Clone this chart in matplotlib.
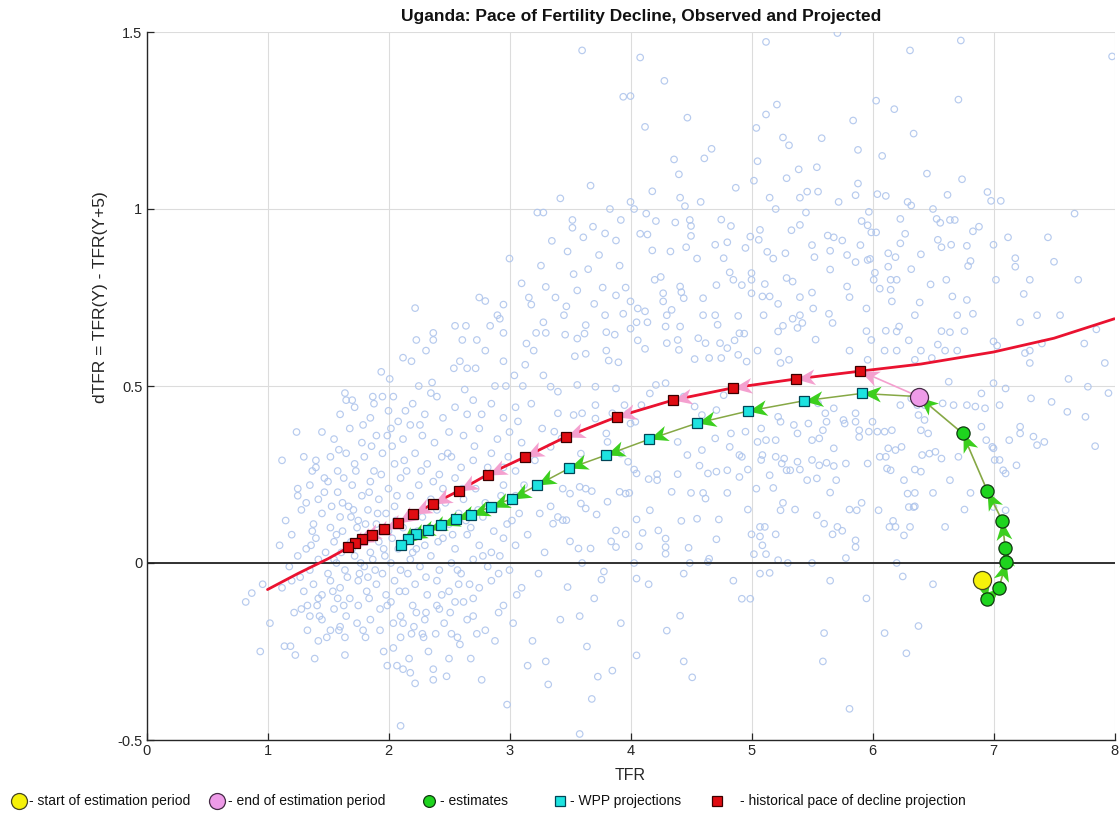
import numpy as np
import matplotlib
matplotlib.use("Agg")
import matplotlib.pyplot as plt
from matplotlib.path import Path
from matplotlib.markers import MarkerStyle
from matplotlib.transforms import Affine2D
from matplotlib.lines import Line2D

# ---------------- data ----------------
title = "Uganda: Pace of Fertility Decline, Observed and Projected"

# observed estimates (start -> end of estimation period)
est_tfr = [6.905, 6.945, 7.045, 7.106, 7.097, 7.073, 6.950, 6.745, 6.383]
est_dtfr = [-0.049, -0.101, -0.070, 0.003, 0.041, 0.119, 0.203, 0.366, 0.470]

# WPP projections
wpp_tfr = [5.91, 5.43, 4.97, 4.55, 4.15, 3.80, 3.49, 3.23, 3.02, 2.85, 2.68,
           2.56, 2.43, 2.33, 2.23, 2.16, 2.10]
wpp_dtfr = [0.479, 0.458, 0.429, 0.395, 0.349, 0.305, 0.267, 0.220, 0.182,
            0.159, 0.137, 0.123, 0.107, 0.093, 0.081, 0.069, 0.051]

# historical pace of decline projection
hist_tfr = [5.90, 5.37, 4.85, 4.35, 3.89, 3.47, 3.13, 2.82, 2.58, 2.37, 2.20,
            2.08, 1.965, 1.865, 1.785, 1.72, 1.665]
hist_dtfr = [0.542, 0.520, 0.495, 0.460, 0.413, 0.357, 0.300, 0.250, 0.204,
             0.167, 0.138, 0.112, 0.095, 0.080, 0.067, 0.056, 0.046]

# fitted historical pace curve
curve_tfr = [1.0, 1.25, 1.5, 1.68, 1.8, 1.97, 2.08, 2.2, 2.37, 2.58, 2.82,
             3.13, 3.47, 3.89, 4.35, 4.85, 5.37, 5.9, 6.4, 7.0, 7.5, 8.0]
curve_dtfr = [-0.075, -0.03, 0.012, 0.046, 0.068, 0.095, 0.112, 0.138, 0.167,
              0.204, 0.25, 0.30, 0.357, 0.413, 0.46, 0.495, 0.52, 0.542,
              0.562, 0.596, 0.635, 0.69]

# background cloud: all countries (TFR, dTFR)
cloud_left = [
    (0.82, -0.11), (0.87, -0.085), (0.96, -0.06), (0.94, -0.25), (1.02, -0.17),
    (1.12, 0.29), (1.24, 0.37), (1.25, 0.19), (1.40, 0.29),
    (1.14, -0.235), (1.19, -0.235), (1.23, -0.26), (1.39, -0.27), (1.64, -0.26),
    (1.28, -0.13), (1.35, -0.15), (1.43, -0.15), (1.42, -0.10), (1.60, -0.18),
    (1.64, -0.21), (1.79, -0.19), (1.81, -0.21), (1.96, -0.25), (1.99, -0.29),
    (2.07, -0.29), (2.12, -0.30), (2.18, -0.31), (2.22, -0.34), (2.37, -0.30),
    (2.48, -0.32), (2.37, -0.33), (2.50, -0.27), (2.57, -0.21), (2.59, -0.23),
    (2.73, -0.20), (2.80, -0.19), (2.77, -0.33), (2.91, -0.14), (2.10, -0.46),
    (2.98, -0.40), (3.19, -0.22), (3.15, -0.29), (3.24, -0.03), (3.10, -0.07),
    (3.06, -0.09), (2.51, -0.14), (2.62, -0.11), (2.70, -0.10), (2.65, -0.16),
    (2.23, -0.14), (2.31, -0.14), (2.40, -0.12), (2.46, -0.17), (2.04, -0.17),
    (2.12, -0.17), (2.21, -0.18), (2.28, -0.20), (2.10, -0.21), (2.19, -0.20),
    (2.29, -0.21), (2.39, -0.20), (1.42, -0.22), (1.52, -0.19), (1.59, -0.19),
    (1.60, 0.42), (1.72, 0.44), (1.85, 0.41), (2.00, 0.43), (2.08, 0.40),
    (2.20, 0.45), (2.30, 0.42), (2.45, 0.41), (2.55, 0.44), (1.95, 0.47),
    (2.25, 0.50), (2.40, 0.47), (2.70, 0.46), (2.65, 0.42), (2.85, 0.45),
    (2.95, 0.41), (3.05, 0.44),
    (1.45, 0.37), (1.55, 0.35), (1.68, 0.38), (1.78, 0.34), (1.90, 0.36),
    (2.02, 0.38), (2.12, 0.35), (2.18, 0.39), (2.28, 0.36), (2.38, 0.34),
    (2.50, 0.37), (2.62, 0.36), (2.75, 0.38), (2.90, 0.35), (3.00, 0.37),
    (3.10, 0.34),
    (1.30, 0.30), (1.40, 0.27), (1.52, 0.30), (1.58, 0.26), (1.65, 0.31),
    (1.72, 0.28), (1.80, 0.30), (1.88, 0.26), (1.95, 0.31), (2.05, 0.28),
    (2.15, 0.26), (2.22, 0.31), (2.32, 0.28), (2.42, 0.25), (2.52, 0.30),
    (2.60, 0.27), (2.70, 0.29), (2.85, 0.31), (2.95, 0.27), (3.05, 0.26),
    (1.25, 0.21), (1.35, 0.22), (1.42, 0.18), (1.50, 0.23), (1.58, 0.20),
    (1.62, 0.17), (1.70, 0.22), (1.78, 0.19), (1.85, 0.23), (1.92, 0.18),
    (2.00, 0.21), (2.10, 0.24), (2.18, 0.19), (2.25, 0.22), (2.35, 0.18),
    (2.45, 0.21), (2.55, 0.24), (2.62, 0.18), (2.72, 0.21), (2.80, 0.17),
    (2.95, 0.22), (3.05, 0.19),
    (1.15, 0.12), (1.28, 0.15), (1.38, 0.11), (1.45, 0.14), (1.52, 0.10),
    (1.60, 0.13), (1.67, 0.16), (1.75, 0.12), (1.83, 0.15), (1.90, 0.11),
    (1.98, 0.14), (2.05, 0.16), (2.12, 0.10), (2.28, 0.13), (2.40, 0.15),
    (2.50, 0.11), (2.58, 0.14), (2.68, 0.10), (2.78, 0.13), (2.88, 0.16),
    (2.98, 0.11), (3.08, 0.14),
    (1.10, 0.05), (1.20, 0.08), (1.32, 0.04), (1.40, 0.07), (1.48, 0.03),
    (1.55, 0.06), (1.62, 0.09), (1.70, 0.04), (1.78, 0.07), (1.85, 0.03),
    (1.92, 0.06), (2.00, 0.09), (2.08, 0.04), (2.20, 0.03), (2.30, 0.05),
    (2.45, 0.07), (2.55, 0.04), (2.65, 0.08), (2.75, 0.05), (2.85, 0.03),
    (2.95, 0.07), (3.05, 0.05),
    (1.18, -0.01), (1.25, 0.02), (1.35, -0.02), (1.42, 0.01), (1.50, -0.03),
    (1.57, 0.00), (1.64, -0.02), (1.72, 0.02), (1.80, -0.01), (1.87, 0.01),
    (1.95, -0.03), (2.02, 0.00), (2.10, -0.02), (2.18, 0.01), (2.26, -0.01),
    (2.35, 0.02), (2.42, -0.02), (2.52, 0.00), (2.60, -0.03), (2.70, 0.01),
    (2.82, -0.01), (2.92, 0.02), (3.00, -0.02),
    (1.12, -0.07), (1.20, -0.05), (1.30, -0.08), (1.38, -0.06), (1.45, -0.09),
    (1.52, -0.05), (1.60, -0.07), (1.68, -0.10), (1.75, -0.05), (1.82, -0.08),
    (1.90, -0.06), (1.98, -0.09), (2.05, -0.05), (2.14, -0.08), (2.22, -0.06),
    (2.32, -0.09), (2.40, -0.05), (2.50, -0.08), (2.58, -0.06), (2.75, -0.07),
    (2.85, -0.05),
    (1.22, -0.14), (1.33, -0.12), (1.45, -0.16), (1.55, -0.13), (1.65, -0.15),
    (1.75, -0.12), (1.85, -0.16), (1.93, -0.13), (2.02, -0.11), (2.10, -0.15),
    (2.20, -0.12), (2.30, -0.16), (2.42, -0.13), (2.55, -0.11), (2.70, -0.15),
    (2.95, -0.12),
    (1.55, 0.01), (1.66, 0.05), (1.76, -0.03), (1.88, 0.08), (1.97, 0.02),
    (2.06, 0.12), (2.15, 0.06), (1.74, 0.10), (1.63, 0.24), (1.86, 0.33),
    (2.03, 0.33), (1.47, 0.20), (1.36, 0.05), (1.58, -0.10), (1.83, -0.04),
    (2.24, 0.09), (1.69, 0.13),
    (2.22, 0.72), (2.37, 0.65), (2.37, 0.63), (2.55, 0.67), (2.64, 0.67),
    (2.75, 0.75), (2.80, 0.74), (2.95, 0.73), (2.90, 0.70), (2.92, 0.69),
    (2.84, 0.67), (2.95, 0.65), (3.16, 0.75), (3.18, 0.73), (3.28, 0.68),
    (3.22, 0.65), (3.30, 0.65), (2.23, 0.63), (2.61, 0.63), (2.73, 0.63),
    (2.80, 0.60), (2.31, 0.60), (2.12, 0.58), (2.19, 0.57), (1.94, 0.54),
    (2.01, 0.52), (2.54, 0.55), (2.59, 0.57), (2.65, 0.55), (2.72, 0.55),
    (2.95, 0.57), (2.88, 0.50), (2.36, 0.51), (2.35, 0.48), (3.20, 0.60),
    (3.13, 0.56), (3.04, 0.53), (3.11, 0.50), (3.28, 0.53), (1.64, 0.48),
    (1.65, 0.46), (1.70, 0.46), (1.87, 0.47), (2.04, 0.47), (3.00, 0.86),
    (3.23, 0.99), (3.28, 0.99), (3.10, 0.79), (3.30, 0.78), (3.38, 0.75),
    (3.45, 0.70),
]

cloud_dense = [
    (1.32, 0.17), (1.37, 0.26), (1.47, 0.24), (1.53, 0.16), (1.57, 0.08),
    (1.61, 0.03), (1.66, -0.04), (1.71, 0.15), (1.73, 0.26), (1.77, 0.00),
    (1.81, 0.11), (1.84, 0.20), (1.89, -0.02), (1.91, 0.14), (1.94, 0.25),
    (1.96, 0.04), (1.99, -0.12), (2.03, 0.07), (2.07, 0.19), (2.09, -0.08),
    (2.13, 0.29), (2.16, -0.03), (2.19, 0.14), (2.23, 0.04), (2.27, 0.26),
    (2.31, -0.04), (2.34, 0.10), (2.37, 0.23), (2.41, 0.06), (2.44, -0.09),
    (2.47, 0.17), (2.49, 0.31), (2.53, 0.08), (2.57, -0.02), (2.61, 0.21),
    (2.64, 0.12), (2.67, -0.06), (2.71, 0.33), (2.74, 0.15), (2.78, 0.02),
    (2.82, 0.27), (2.87, 0.09), (2.91, -0.03), (2.93, 0.19), (2.99, 0.30),
    (3.02, 0.12), (3.07, 0.40), (3.12, 0.22), (3.15, 0.08), (3.18, 0.45),
    (3.21, 0.29), (3.25, 0.14), (3.27, 0.38), (3.29, 0.03),
    (1.27, -0.04), (1.33, -0.19), (1.37, 0.09), (1.41, -0.12), (1.49, -0.21),
    (1.54, -0.08), (1.59, 0.32), (1.63, -0.12), (1.69, 0.06), (1.74, -0.17),
    (1.79, 0.39), (1.84, -0.10), (1.88, 0.45), (1.93, -0.19), (1.99, 0.36),
    (2.04, -0.24), (2.14, 0.43), (2.17, -0.27), (2.26, 0.39), (2.33, -0.25),
    (2.44, 0.30), (2.52, -0.20), (2.63, 0.49), (2.68, -0.27), (2.77, 0.42),
    (2.88, -0.22), (2.97, 0.50), (3.03, -0.17), (3.14, 0.62), (3.26, 0.84),
    (3.35, 0.91), (3.42, 1.03), (3.48, 0.88), (3.56, 0.77), (3.61, 0.92),
    (3.69, 0.95), (3.74, 0.87), (3.83, 1.00), (3.91, 0.84), (4.08, 0.93),
    (4.18, 1.05), (4.33, 0.88), (4.36, 1.14), (4.55, 0.86), (4.58, 1.02),
    (4.75, 0.97), (4.87, 1.06), (4.95, 0.89), (5.02, 1.08), (5.18, 0.86),
    (5.33, 0.94), (5.45, 0.99), (5.58, 1.20), (5.72, 1.02), (5.79, 0.87),
    (5.84, 1.25), (6.08, 1.15), (6.27, 0.93), (6.45, 1.10), (6.62, 1.04),
    (6.88, 0.95), (7.12, 0.92), (7.25, 0.76), (7.40, 0.62), (7.45, 0.92),
    (7.62, 0.52), (7.70, 0.80), (7.85, 0.66), (7.95, 0.48),
    (3.70, -0.10), (3.92, -0.17), (4.15, -0.06), (4.85, -0.05), (5.65, -0.05),
    (5.95, -0.10), (6.50, -0.06),
]

cloud_top = [
    (3.60, 1.448), (4.08, 1.428), (4.28, 1.362), (3.94, 1.317), (4.00, 1.319),
    (4.47, 1.258), (4.12, 1.232), (4.67, 1.17), (4.61, 1.143), (4.40, 1.098),
    (3.67, 1.066), (4.41, 1.032), (4.45, 1.008), (4.00, 1.02), (4.03, 1.00),
    (5.12, 1.472), (5.71, 1.497), (5.21, 1.295), (5.12, 1.267), (5.04, 1.229),
    (5.26, 1.202), (5.31, 1.18), (5.05, 1.135), (5.54, 1.118), (5.39, 1.112),
    (5.29, 1.087), (5.88, 1.167), (5.88, 1.072), (5.46, 1.049), (5.55, 1.049),
    (5.15, 1.032), (5.40, 1.032), (5.86, 1.039), (6.31, 1.448), (6.73, 1.476),
    (6.03, 1.306), (6.18, 1.282), (6.34, 1.213), (6.71, 1.309), (6.74, 1.084),
    (6.04, 1.042), (6.11, 1.037), (6.29, 1.02), (6.32, 1.01), (6.95, 1.048),
    (6.98, 1.023), (7.06, 1.023), (7.98, 1.431), (7.67, 0.987), (6.50, 1.00),
    (3.52, 0.969), (3.52, 0.947), (3.79, 0.931), (3.88, 0.911), (3.92, 0.969),
    (4.13, 0.987), (4.21, 0.966), (4.37, 0.962), (4.49, 0.969), (4.50, 0.952),
    (4.50, 0.924), (4.14, 0.928), (4.18, 0.883), (4.46, 0.892), (4.83, 0.952),
    (4.70, 0.899), (4.80, 0.906), (4.77, 0.861), (4.99, 0.922), (5.07, 0.941),
    (5.06, 0.913), (5.20, 1.00), (5.40, 0.955), (5.13, 0.879), (5.28, 0.875),
    (5.50, 0.898), (5.52, 0.864), (5.63, 0.925), (5.68, 0.920), (5.75, 0.911),
    (5.65, 0.882), (5.65, 0.829), (5.90, 0.898), (5.91, 0.966), (5.96, 0.954),
    (5.99, 0.934), (6.03, 0.934), (5.97, 0.992), (5.86, 0.85), (5.96, 0.856),
    (5.98, 0.859), (6.23, 0.972), (6.23, 0.903), (6.13, 0.875), (6.19, 0.864),
    (6.40, 0.872), (6.53, 0.972), (6.56, 0.961), (6.64, 0.969), (6.68, 0.969),
    (6.83, 0.937), (6.54, 0.913), (6.57, 0.892), (6.65, 0.899), (6.78, 0.896),
    (6.81, 0.853), (6.79, 0.839), (7.00, 0.899), (7.18, 0.861), (7.18, 0.837),
    (7.50, 0.851), (6.13, 0.837), (6.32, 0.83), (6.02, 0.82), (6.01, 0.80),
    (6.15, 0.80), (6.20, 0.80), (6.61, 0.80), (7.02, 0.80), (7.30, 0.80),
    (6.48, 0.787), (6.06, 0.775), (6.15, 0.772), (6.39, 0.736), (6.16, 0.739),
    (6.66, 0.753), (6.78, 0.743), (6.35, 0.70), (6.70, 0.70), (6.83, 0.704),
    (7.36, 0.70), (7.22, 0.68), (5.95, 0.719), (6.11, 0.656), (6.20, 0.654),
    (6.22, 0.668), (5.95, 0.655), (5.99, 0.63), (6.30, 0.629), (6.57, 0.655),
    (6.64, 0.652), (6.76, 0.655), (6.54, 0.617), (6.10, 0.60), (6.20, 0.60),
    (6.40, 0.60), (6.60, 0.60), (6.70, 0.60), (7.00, 0.626), (7.03, 0.614),
    (7.26, 0.593), (7.30, 0.60), (7.30, 0.565), (7.92, 0.565), (5.81, 0.60),
    (6.35, 0.574), (6.49, 0.579), (7.55, 0.70), (7.75, 0.62),
    (3.53, 0.816), (3.65, 0.83), (3.47, 0.725), (3.77, 0.778), (3.88, 0.756),
    (3.96, 0.778), (3.70, 0.732), (3.79, 0.70), (3.94, 0.704), (3.63, 0.672),
    (3.62, 0.648), (3.56, 0.634), (3.80, 0.652), (3.87, 0.645), (4.00, 0.739),
    (4.00, 0.662), (4.06, 0.719), (4.12, 0.711), (4.05, 0.68), (4.14, 0.68),
    (4.20, 0.80), (4.25, 0.808), (4.27, 0.762), (4.27, 0.739), (4.30, 0.70),
    (4.34, 0.715), (4.41, 0.781), (4.42, 0.765), (4.44, 0.748), (4.29, 0.668),
    (4.41, 0.668), (4.60, 0.748), (4.60, 0.70), (4.70, 0.70), (4.72, 0.673),
    (4.82, 0.821), (4.85, 0.80), (4.92, 0.785), (4.71, 0.785), (4.89, 0.698),
    (4.56, 0.635), (4.62, 0.621), (4.74, 0.621), (4.80, 0.607), (4.86, 0.629),
    (4.90, 0.649), (4.94, 0.648), (5.00, 0.819), (5.00, 0.80), (5.00, 0.762),
    (5.11, 0.788), (5.09, 0.753), (5.15, 0.753), (5.10, 0.70), (5.22, 0.732),
    (5.29, 0.805), (5.34, 0.795), (5.40, 0.751), (5.50, 0.764), (5.51, 0.719),
    (5.34, 0.69), (5.40, 0.70), (5.42, 0.678), (5.38, 0.664), (5.22, 0.654),
    (5.26, 0.67), (5.64, 0.704), (5.67, 0.678), (5.79, 0.781), (5.81, 0.751),
    (5.53, 0.631), (5.05, 0.60), (5.22, 0.598), (5.24, 0.565), (5.31, 0.574),
    (5.96, 0.574), (3.46, 0.645), (3.54, 0.584), (3.63, 0.591), (3.80, 0.60),
    (3.82, 0.572), (3.90, 0.567), (4.06, 0.629), (4.12, 0.605), (4.30, 0.621),
    (4.39, 0.63), (4.40, 0.602), (4.53, 0.576), (4.65, 0.579), (4.75, 0.579),
    (4.89, 0.588), (4.96, 0.569),
]

cloud_right = [
    (3.48, -0.068), (3.76, -0.047), (3.78, -0.024), (4.05, -0.044),
    (3.42, -0.160), (3.58, -0.150), (3.64, -0.236), (3.30, -0.278),
    (3.32, -0.343), (3.73, -0.321), (3.85, -0.304), (3.68, -0.384),
    (3.58, -0.483), (4.05, -0.261), (4.30, -0.191), (4.41, -0.149),
    (4.44, -0.278), (4.51, -0.323), (4.44, -0.03), (4.49, 0.0),
    (4.92, -0.101), (4.99, -0.101), (5.07, -0.03), (5.15, -0.028),
    (5.60, -0.198), (5.59, -0.278), (5.81, -0.412), (6.10, -0.198),
    (6.25, -0.038), (6.38, -0.178), (6.28, -0.255),
    (3.60, 0.0), (4.03, 0.0), (4.64, 0.003), (5.22, 0.008), (5.30, 0.0),
    (5.50, 0.0), (5.78, 0.014), (6.20, 0.0), (3.50, 0.061), (3.57, 0.041),
    (3.67, 0.041), (3.84, 0.061), (3.88, 0.045), (3.96, 0.081), (4.07, 0.047),
    (4.10, 0.085), (4.23, 0.092), (4.29, 0.069), (4.29, 0.045), (4.29, 0.026),
    (4.48, 0.043), (4.65, 0.012), (4.71, 0.067), (5.00, 0.081), (5.07, 0.102),
    (5.11, 0.102), (5.20, 0.081), (5.07, 0.075), (5.09, 0.05), (5.02, 0.025),
    (5.12, 0.025), (5.86, 0.064), (5.86, 0.045), (3.36, 0.111), (3.47, 0.121),
    (3.72, 0.137), (3.88, 0.092), (4.05, 0.123), (4.42, 0.119), (4.55, 0.125),
    (4.73, 0.123), (5.24, 0.149), (5.36, 0.151), (5.54, 0.135), (5.60, 0.111),
    (5.67, 0.081), (5.71, 0.102), (5.75, 0.091), (5.91, 0.17), (6.05, 0.149),
    (6.17, 0.119), (6.14, 0.102), (6.19, 0.102), (6.31, 0.102), (6.26, 0.078),
    (6.60, 0.102), (6.30, 0.158), (6.34, 0.158), (5.81, 0.151), (5.87, 0.149),
    (4.97, 0.151), (4.16, 0.149), (3.81, 0.173), (3.96, 0.196), (3.99, 0.198),
    (3.91, 0.201), (3.34, 0.160), (3.40, 0.130), (3.44, 0.121), (3.59, 0.168),
    (3.63, 0.154), (3.44, 0.21), (3.50, 0.196), (3.58, 0.215), (3.63, 0.21),
    (3.68, 0.203), (4.05, 0.253), (4.03, 0.264), (4.15, 0.237), (4.22, 0.234),
    (4.22, 0.251), (4.34, 0.201), (4.50, 0.198), (4.60, 0.198), (4.62, 0.182),
    (4.80, 0.198), (4.39, 0.251), (4.57, 0.275), (4.64, 0.253), (4.71, 0.258),
    (4.80, 0.262), (4.90, 0.243), (4.97, 0.264), (4.90, 0.305), (4.92, 0.30),
    (5.08, 0.291), (5.15, 0.248), (5.18, 0.212), (5.26, 0.17), (5.04, 0.210),
    (5.25, 0.281), (5.32, 0.262), (5.40, 0.264), (5.46, 0.234), (5.54, 0.239),
    (5.65, 0.199), (5.70, 0.234), (5.38, 0.286), (5.50, 0.291), (5.56, 0.276),
    (5.62, 0.283), (5.68, 0.274), (5.78, 0.281), (5.96, 0.281), (6.06, 0.30),
    (6.11, 0.30), (6.12, 0.267), (6.15, 0.262), (6.26, 0.234), (6.29, 0.196),
    (6.35, 0.264), (6.40, 0.258), (6.41, 0.305), (6.47, 0.309), (6.52, 0.314),
    (6.57, 0.295), (6.64, 0.234), (6.35, 0.198), (6.50, 0.198), (6.35, 0.160),
    (6.71, 0.30), (6.81, 0.198), (6.76, 0.151), (7.00, 0.324), (7.05, 0.291),
    (7.10, 0.253), (7.19, 0.276), (7.10, 0.149), (7.00, 0.158),
    (3.34, 0.498), (3.40, 0.484), (3.56, 0.503), (3.71, 0.498), (3.88, 0.493),
    (3.40, 0.423), (3.53, 0.418), (3.60, 0.423), (3.71, 0.446), (3.71, 0.408),
    (3.85, 0.423), (3.95, 0.446), (3.37, 0.371), (3.43, 0.352), (3.34, 0.328),
    (3.59, 0.309), (3.98, 0.423), (4.00, 0.394), (4.04, 0.399), (4.09, 0.446),
    (4.16, 0.479), (4.21, 0.503), (3.80, 0.366), (3.81, 0.342), (3.92, 0.309),
    (3.98, 0.286), (4.29, 0.508), (4.44, 0.470), (4.53, 0.442), (4.59, 0.418),
    (4.71, 0.432), (4.77, 0.474), (4.39, 0.342), (4.47, 0.305), (4.59, 0.319),
    (4.70, 0.352), (4.82, 0.328), (4.83, 0.366), (4.95, 0.371), (5.08, 0.380),
    (5.05, 0.342), (5.12, 0.347), (5.20, 0.347), (5.09, 0.305), (5.20, 0.30),
    (5.27, 0.295), (5.29, 0.262), (5.22, 0.413), (5.24, 0.399), (5.35, 0.390),
    (5.38, 0.366), (5.47, 0.394), (5.50, 0.347), (5.56, 0.352), (5.59, 0.375),
    (5.62, 0.399), (5.68, 0.324), (5.55, 0.451), (5.61, 0.423), (5.68, 0.437),
    (5.76, 0.404), (5.77, 0.394), (5.86, 0.423), (5.86, 0.399), (5.89, 0.375),
    (5.89, 0.356), (5.97, 0.371), (6.00, 0.399), (6.04, 0.371), (6.10, 0.371),
    (6.16, 0.375), (6.13, 0.324), (6.19, 0.319), (6.24, 0.328), (6.43, 0.404),
    (6.46, 0.366), (6.40, 0.375), (6.38, 0.418), (6.37, 0.446), (6.32, 0.465),
    (6.23, 0.446), (6.43, 0.446), (6.58, 0.451), (6.67, 0.446), (6.78, 0.446),
    (6.85, 0.442), (6.93, 0.437), (7.05, 0.446), (6.90, 0.385), (6.94, 0.347),
    (6.99, 0.328), (7.08, 0.262), (7.01, 0.291), (7.13, 0.347), (7.22, 0.385),
    (7.22, 0.366), (7.31, 0.465), (7.33, 0.357), (7.36, 0.333), (7.42, 0.342),
    (7.48, 0.455), (7.61, 0.427), (7.76, 0.413), (7.78, 0.498), (7.10, 0.493),
    (7.00, 0.508), (6.90, 0.479), (6.63, 0.512), (7.84, 0.33),
]

x_ticks = [0, 1, 2, 3, 4, 5, 6, 7, 8]
y_ticks = [-0.5, 0, 0.5, 1, 1.5]
y_tick_labels = ["-0.5", "0", "0.5", "1", "1.5"]

legend_labels = ["- start of estimation period", "- end of estimation period",
                 "- estimates", "- WPP projections",
                 "- historical pace of decline projection"]

# ---------------- style ----------------
plt.rcParams["font.family"] = ["Liberation Sans", "DejaVu Sans"]
W, H, DPI = 1120, 817, 100
fig = plt.figure(figsize=(W / DPI, H / DPI), dpi=DPI)
fig.patch.set_facecolor("white")
ax = fig.add_axes([146.5 / W, 1 - 740 / H, (1114.5 - 146.5) / W, (740 - 32) / H])
ax.set_xlim(0, 8)
ax.set_ylim(-0.5, 1.5)

cloud = np.array(cloud_left + cloud_dense + cloud_top + cloud_right)
ax.scatter(cloud[:, 0], cloud[:, 1], s=22, facecolors="none",
           edgecolors="#afc5ec", linewidths=0.85, alpha=0.9, zorder=1)

ax.axhline(0, color="#222222", lw=1.3, zorder=2)

GREEN_LINE = "#86a845"
PINK = "#f4a0cf"
ARROW_GREEN = "#3ccf1e"

# pink path: end of estimation -> historical projection
hx = [est_tfr[-1]] + hist_tfr
hy = [est_dtfr[-1]] + hist_dtfr
ax.plot(hx, hy, color=PINK, lw=1.2, zorder=2.5)
ax.plot(curve_tfr, curve_dtfr, color="#ea1230", lw=2.0, zorder=3,
        solid_capstyle="round")
# green paths
ax.plot(est_tfr, est_dtfr, color=GREEN_LINE, lw=1.2, zorder=3)
wx = [est_tfr[-1]] + wpp_tfr
wy = [est_dtfr[-1]] + wpp_dtfr
ax.plot(wx, wy, color=GREEN_LINE, lw=1.1, zorder=3)

# arrowheads
head = Path([(0, 0), (-1, 0.42), (-0.72, 0), (-1, -0.42), (0, 0)],
            [Path.MOVETO, Path.LINETO, Path.LINETO, Path.LINETO, Path.CLOSEPOLY])


def arrowheads(xs, ys, color, ms=27):
    pts = ax.transData.transform(np.column_stack([xs, ys]))
    for i in range(1, len(xs)):
        d = pts[i] - pts[i - 1]
        ang = np.degrees(np.arctan2(d[1], d[0]))
        m = MarkerStyle(head, transform=Affine2D().rotate_deg(ang))
        ax.plot([xs[i]], [ys[i]], marker=m, markersize=ms, color=color,
                markeredgewidth=0, linestyle="none", zorder=4)


arrowheads(hx, hy, PINK)
arrowheads(wx, wy, ARROW_GREEN)
arrowheads(est_tfr, est_dtfr, ARROW_GREEN)

# markers
ax.plot(hist_tfr, hist_dtfr, "s", ms=7.5, mfc="#e00c12", mec="#3a0000", mew=0.9,
        zorder=5)
ax.plot(wpp_tfr, wpp_dtfr, "s", ms=7.5, mfc="#1de3e0", mec="#004455", mew=0.9,
        zorder=5)
ax.plot(est_tfr[1:-1], est_dtfr[1:-1], "o", ms=9.5, mfc="#1ed41e",
        mec="#103810", mew=0.9, zorder=5)
ax.plot(est_tfr[0], est_dtfr[0], "o", ms=13, mfc="#f6f20a", mec="#444422",
        mew=0.9, zorder=5)
ax.plot(est_tfr[-1], est_dtfr[-1], "o", ms=13, mfc="#ee9be8", mec="#442a44",
        mew=0.9, zorder=5)

# axes styling
ax.set_xticks(x_ticks)
ax.set_yticks(y_ticks)
ax.set_yticklabels(y_tick_labels)
ax.grid(True, color="#dcdcdc", lw=0.8)
ax.set_axisbelow(True)
for s in ("top", "right"):
    ax.spines[s].set_visible(False)
for s in ("left", "bottom"):
    ax.spines[s].set_color("#262626")
    ax.spines[s].set_linewidth(1.0)
ax.tick_params(direction="in", length=5, width=0.9, colors="#262626",
               labelsize=10.5, pad=3)
fig.text(641 / W, 1 - 17 / H, title, ha="center", va="center", fontsize=12.5,
         fontweight="bold", color="#111111")
fig.text(630 / W, 1 - 776 / H, "TFR", ha="center", va="center", fontsize=11.5,
         color="#262626")
fig.text(100 / W, 1 - 297 / H, "dTFR = TFR(Y) - TFR(Y+5)", rotation=90,
         ha="center", va="center", fontsize=12.5, color="#262626")

# bottom legend
ly = 1 - 801 / H
items = [
    (19, 29, "o", 11.5, "#f6f20a", "#444422"),
    (217, 228, "o", 11.5, "#ee9be8", "#442a44"),
    (429, 440, "o", 8.5, "#1ed41e", "#103810"),
    (560, 570, "s", 7, "#1de3e0", "#004455"),
    (717, 740, "s", 7, "#e00c12", "#3a0000"),
]
for (mx, tx, mk, ms, fc, ec), lab in zip(items, legend_labels):
    fig.add_artist(Line2D([mx / W], [ly], marker=mk, markersize=ms, mfc=fc,
                          mec=ec, mew=0.9, linestyle="none",
                          transform=fig.transFigure))
    fig.text(tx / W, ly, lab, ha="left", va="center", fontsize=10,
             color="#111111")

fig.savefig("out.png", dpi=DPI, facecolor="white")
